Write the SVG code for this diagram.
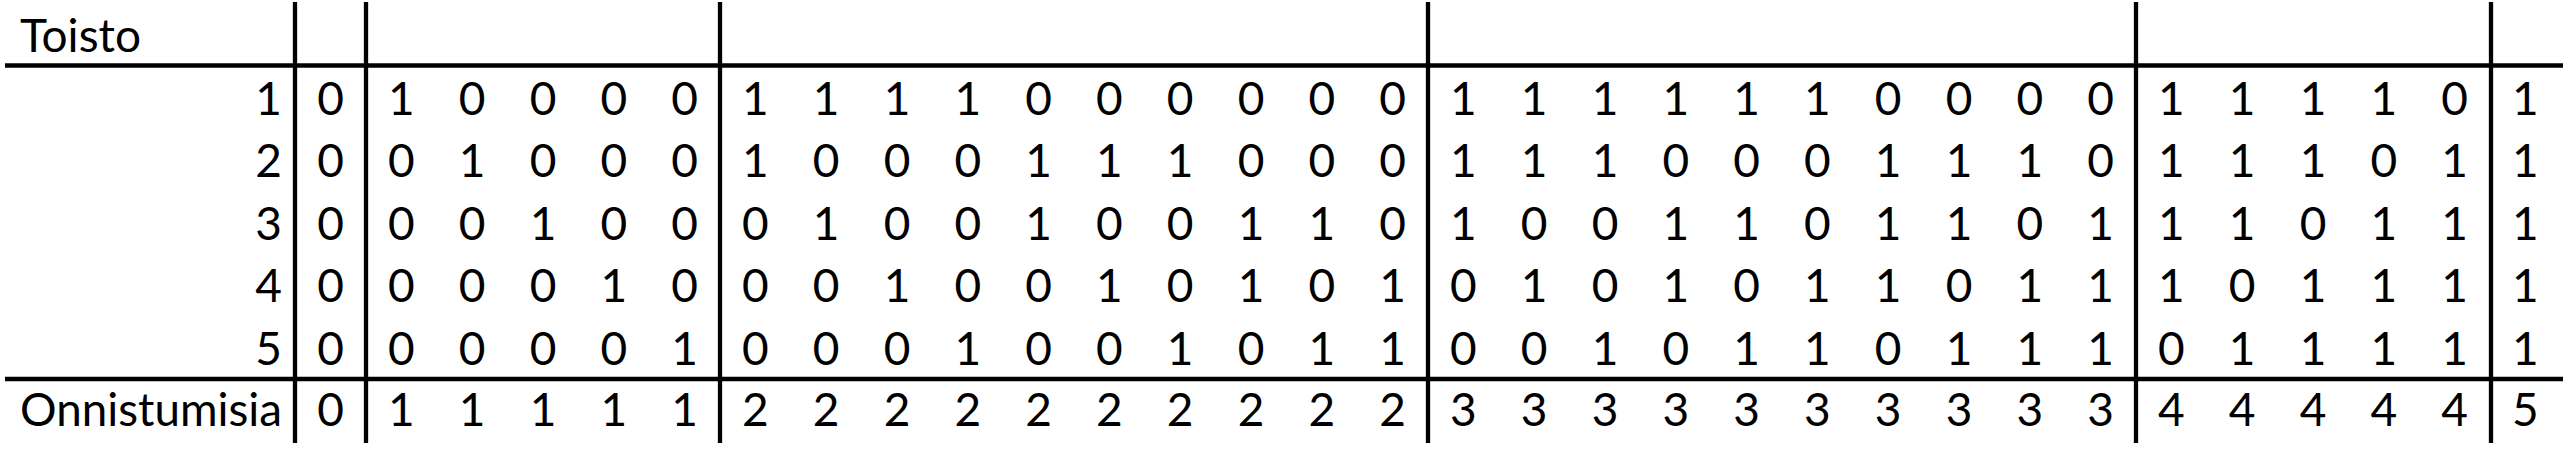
<svg xmlns="http://www.w3.org/2000/svg" width="2571" height="450" viewBox="0 0 2571 450">
<style>
text{font-family:Lato,"Open Sans","Liberation Sans",sans-serif;font-size:46px;fill:#000}
.c{text-anchor:middle}
.r{text-anchor:end}
.ln{stroke:#000;stroke-width:4.3;fill:none}
</style>
<rect width="2571" height="450" fill="#fff"/>
<g id="grid" class="ln">
<line x1="5" y1="65.5" x2="2563" y2="65.5"/>
<line x1="5" y1="379" x2="2563" y2="379"/>
<line x1="295" y1="2" x2="295" y2="443"/>
<line x1="366" y1="2" x2="366" y2="443"/>
<line x1="720" y1="2" x2="720" y2="443"/>
<line x1="1428" y1="2" x2="1428" y2="443"/>
<line x1="2136" y1="2" x2="2136" y2="443"/>
<line x1="2491" y1="2" x2="2491" y2="443"/>
</g>
<g id="labels">
<text x="20" y="52" textLength="121" lengthAdjust="spacingAndGlyphs">Toisto</text>
<text x="20" y="426" textLength="262" lengthAdjust="spacingAndGlyphs">Onnistumisia</text>
<text class="r" x="282" y="115">1</text>
<text class="r" x="282" y="177">2</text>
<text class="r" x="282" y="239.5">3</text>
<text class="r" x="282" y="302">4</text>
<text class="r" x="282" y="365">5</text>
</g>
<g id="row1" transform="translate(0,115)">
<text class="c" x="330.5">0</text>
<text class="c" x="401.4">1</text><text class="c" x="472.2">0</text><text class="c" x="543">0</text><text class="c" x="613.8">0</text><text class="c" x="684.6">0</text>
<text class="c" x="755.4">1</text><text class="c" x="826.2">1</text><text class="c" x="897">1</text><text class="c" x="967.8">1</text><text class="c" x="1038.6">0</text><text class="c" x="1109.4">0</text><text class="c" x="1180.2">0</text><text class="c" x="1251">0</text><text class="c" x="1321.8">0</text><text class="c" x="1392.6">0</text>
<text class="c" x="1463.4">1</text><text class="c" x="1534.2">1</text><text class="c" x="1605">1</text><text class="c" x="1675.8">1</text><text class="c" x="1746.6">1</text><text class="c" x="1817.4">1</text><text class="c" x="1888.2">0</text><text class="c" x="1959">0</text><text class="c" x="2029.8">0</text><text class="c" x="2100.6">0</text>
<text class="c" x="2171.4">1</text><text class="c" x="2242.2">1</text><text class="c" x="2313">1</text><text class="c" x="2383.8">1</text><text class="c" x="2454.6">0</text>
<text class="c" x="2525.4">1</text>
</g>
<g id="row2" transform="translate(0,177)">
<text class="c" x="330.5">0</text>
<text class="c" x="401.4">0</text><text class="c" x="472.2">1</text><text class="c" x="543">0</text><text class="c" x="613.8">0</text><text class="c" x="684.6">0</text>
<text class="c" x="755.4">1</text><text class="c" x="826.2">0</text><text class="c" x="897">0</text><text class="c" x="967.8">0</text><text class="c" x="1038.6">1</text><text class="c" x="1109.4">1</text><text class="c" x="1180.2">1</text><text class="c" x="1251">0</text><text class="c" x="1321.8">0</text><text class="c" x="1392.6">0</text>
<text class="c" x="1463.4">1</text><text class="c" x="1534.2">1</text><text class="c" x="1605">1</text><text class="c" x="1675.8">0</text><text class="c" x="1746.6">0</text><text class="c" x="1817.4">0</text><text class="c" x="1888.2">1</text><text class="c" x="1959">1</text><text class="c" x="2029.8">1</text><text class="c" x="2100.6">0</text>
<text class="c" x="2171.4">1</text><text class="c" x="2242.2">1</text><text class="c" x="2313">1</text><text class="c" x="2383.8">0</text><text class="c" x="2454.6">1</text>
<text class="c" x="2525.4">1</text>
</g>
<g id="row3" transform="translate(0,239.5)">
<text class="c" x="330.5">0</text>
<text class="c" x="401.4">0</text><text class="c" x="472.2">0</text><text class="c" x="543">1</text><text class="c" x="613.8">0</text><text class="c" x="684.6">0</text>
<text class="c" x="755.4">0</text><text class="c" x="826.2">1</text><text class="c" x="897">0</text><text class="c" x="967.8">0</text><text class="c" x="1038.6">1</text><text class="c" x="1109.4">0</text><text class="c" x="1180.2">0</text><text class="c" x="1251">1</text><text class="c" x="1321.8">1</text><text class="c" x="1392.6">0</text>
<text class="c" x="1463.4">1</text><text class="c" x="1534.2">0</text><text class="c" x="1605">0</text><text class="c" x="1675.8">1</text><text class="c" x="1746.6">1</text><text class="c" x="1817.4">0</text><text class="c" x="1888.2">1</text><text class="c" x="1959">1</text><text class="c" x="2029.8">0</text><text class="c" x="2100.6">1</text>
<text class="c" x="2171.4">1</text><text class="c" x="2242.2">1</text><text class="c" x="2313">0</text><text class="c" x="2383.8">1</text><text class="c" x="2454.6">1</text>
<text class="c" x="2525.4">1</text>
</g>
<g id="row4" transform="translate(0,302)">
<text class="c" x="330.5">0</text>
<text class="c" x="401.4">0</text><text class="c" x="472.2">0</text><text class="c" x="543">0</text><text class="c" x="613.8">1</text><text class="c" x="684.6">0</text>
<text class="c" x="755.4">0</text><text class="c" x="826.2">0</text><text class="c" x="897">1</text><text class="c" x="967.8">0</text><text class="c" x="1038.6">0</text><text class="c" x="1109.4">1</text><text class="c" x="1180.2">0</text><text class="c" x="1251">1</text><text class="c" x="1321.8">0</text><text class="c" x="1392.6">1</text>
<text class="c" x="1463.4">0</text><text class="c" x="1534.2">1</text><text class="c" x="1605">0</text><text class="c" x="1675.8">1</text><text class="c" x="1746.6">0</text><text class="c" x="1817.4">1</text><text class="c" x="1888.2">1</text><text class="c" x="1959">0</text><text class="c" x="2029.8">1</text><text class="c" x="2100.6">1</text>
<text class="c" x="2171.4">1</text><text class="c" x="2242.2">0</text><text class="c" x="2313">1</text><text class="c" x="2383.8">1</text><text class="c" x="2454.6">1</text>
<text class="c" x="2525.4">1</text>
</g>
<g id="row5" transform="translate(0,365)">
<text class="c" x="330.5">0</text>
<text class="c" x="401.4">0</text><text class="c" x="472.2">0</text><text class="c" x="543">0</text><text class="c" x="613.8">0</text><text class="c" x="684.6">1</text>
<text class="c" x="755.4">0</text><text class="c" x="826.2">0</text><text class="c" x="897">0</text><text class="c" x="967.8">1</text><text class="c" x="1038.6">0</text><text class="c" x="1109.4">0</text><text class="c" x="1180.2">1</text><text class="c" x="1251">0</text><text class="c" x="1321.8">1</text><text class="c" x="1392.6">1</text>
<text class="c" x="1463.4">0</text><text class="c" x="1534.2">0</text><text class="c" x="1605">1</text><text class="c" x="1675.8">0</text><text class="c" x="1746.6">1</text><text class="c" x="1817.4">1</text><text class="c" x="1888.2">0</text><text class="c" x="1959">1</text><text class="c" x="2029.8">1</text><text class="c" x="2100.6">1</text>
<text class="c" x="2171.4">0</text><text class="c" x="2242.2">1</text><text class="c" x="2313">1</text><text class="c" x="2383.8">1</text><text class="c" x="2454.6">1</text>
<text class="c" x="2525.4">1</text>
</g>
<g id="sum" transform="translate(0,426)">
<text class="c" x="330.5">0</text>
<text class="c" x="401.4">1</text><text class="c" x="472.2">1</text><text class="c" x="543">1</text><text class="c" x="613.8">1</text><text class="c" x="684.6">1</text>
<text class="c" x="755.4">2</text><text class="c" x="826.2">2</text><text class="c" x="897">2</text><text class="c" x="967.8">2</text><text class="c" x="1038.6">2</text><text class="c" x="1109.4">2</text><text class="c" x="1180.2">2</text><text class="c" x="1251">2</text><text class="c" x="1321.8">2</text><text class="c" x="1392.6">2</text>
<text class="c" x="1463.4">3</text><text class="c" x="1534.2">3</text><text class="c" x="1605">3</text><text class="c" x="1675.8">3</text><text class="c" x="1746.6">3</text><text class="c" x="1817.4">3</text><text class="c" x="1888.2">3</text><text class="c" x="1959">3</text><text class="c" x="2029.8">3</text><text class="c" x="2100.6">3</text>
<text class="c" x="2171.4">4</text><text class="c" x="2242.2">4</text><text class="c" x="2313">4</text><text class="c" x="2383.8">4</text><text class="c" x="2454.6">4</text>
<text class="c" x="2525.4">5</text>
</g>
</svg>
